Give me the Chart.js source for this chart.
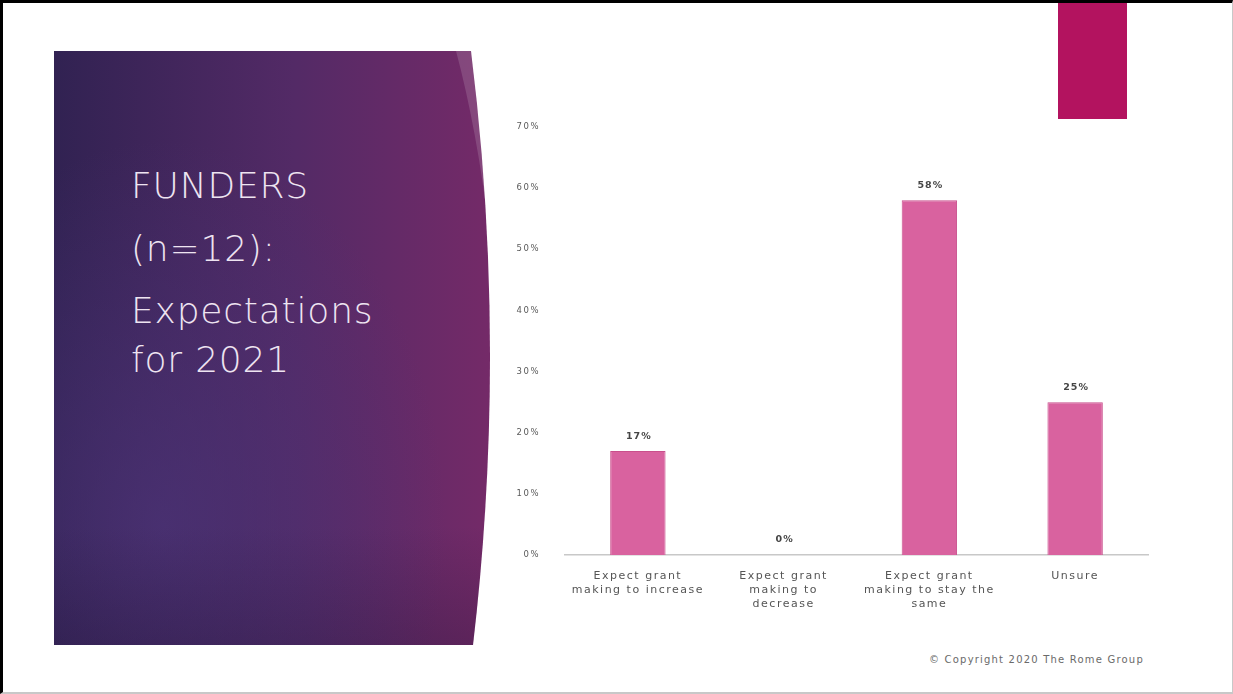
<!DOCTYPE html>
<html>
<head>
<meta charset="utf-8">
<script src="https://cdn.jsdelivr.net/npm/chart.js@4"></script>
<style>
  html, body { margin: 0; padding: 0; background: #fff; }
  body { width: 1233px; height: 694px; position: relative; overflow: hidden; font-family: "DejaVu Sans", sans-serif; }
  .frame { position: absolute; left: 0; top: 0; width: 1233px; height: 694px; box-sizing: border-box;
           border-left: 3px solid #000; border-top: 3px solid #000; border-right: 1px solid #c8c8c8; border-bottom: 2px solid #c8c8c8; }
  #deco { position: absolute; left: 0; top: 0; }
  .title { position: absolute; left: 131px; top: 160px; color: #eee4f1; font-family: "DejaVu Sans", sans-serif; font-weight: 200;
           font-size: 36px; line-height: 1; letter-spacing: 0.8px; }
  .title div { position: absolute; left: 0; white-space: nowrap; }
  .tag { position: absolute; left: 1058px; top: 3px; width: 69px; height: 116px; background: #b3135f; }
  .copy { position: absolute; left: 929px; top: 654px; font-size: 10px; color: #6a6a6a; letter-spacing: 1.2px; white-space: nowrap; }
  #wrap { position: absolute; left: 500px; top: 110px; width: 680px; height: 560px; }
</style>
</head>
<body>
<svg id="deco" width="1233" height="694">
  <defs>
    <linearGradient id="panelH" x1="0" y1="0" x2="1" y2="0">
      <stop offset="0" stop-color="#312252"/>
      <stop offset="0.55" stop-color="#532a66"/>
      <stop offset="1" stop-color="#742a68"/>
    </linearGradient>
    <radialGradient id="panelGlow" cx="0.25" cy="0.8" r="0.65">
      <stop offset="0" stop-color="#4c3479" stop-opacity="0.7"/>
      <stop offset="1" stop-color="#4c3479" stop-opacity="0"/>
    </radialGradient>
    <linearGradient id="panelFoot" x1="0" y1="0" x2="0" y2="1">
      <stop offset="0.8" stop-color="#1c1030" stop-opacity="0"/>
      <stop offset="1" stop-color="#1c1030" stop-opacity="0.25"/>
    </linearGradient>
  </defs>
  <!-- left title panel with the curved right edge -->
  <path d="M54 51 L471 51 Q508 348 473 645 L54 645 Z" fill="url(#panelH)"/>
  <path d="M54 51 L471 51 Q508 348 473 645 L54 645 Z" fill="url(#panelGlow)"/>
  <path d="M54 51 L471 51 Q508 348 473 645 L54 645 Z" fill="url(#panelFoot)"/>
  <path d="M456 51 L471 51 Q485 130 489 230 Q477 130 456 51 Z" fill="#ffffff" fill-opacity="0.14"/>
</svg>

<div class="title">
  <div style="top:7.5px">FUNDERS</div>
  <div style="top:71px">(n=12):</div>
  <div style="top:132.5px">Expectations</div>
  <div style="top:181.5px">for 2021</div>
</div>

<div class="tag"></div>
<div class="copy">© Copyright 2020 The Rome Group</div>

<div id="wrap"><canvas id="chart" width="680" height="560"></canvas></div>
<div class="frame"></div>

<script>
const categories = [
  ["Expect grant", "making to increase"],
  ["Expect grant", "making to", "decrease"],
  ["Expect grant", "making to stay the", "same"],
  ["Unsure"]
];
const shares = [17, 0, 58, 25];
const yTicks = [0, 10, 20, 30, 40, 50, 60, 70];

// wide, airy lettering for the axis labels
const spacedText = {
  id: "spacedText",
  beforeDraw(chart) { chart.ctx.letterSpacing = "1.5px"; }
};

// value labels drawn above each bar
const barValueLabels = {
  id: "barValueLabels",
  afterDatasetsDraw(chart) {
    const ctx = chart.ctx;
    const meta = chart.getDatasetMeta(0);
    ctx.save();
    ctx.letterSpacing = "1px";
    ctx.font = "bold 9.5px 'DejaVu Sans', sans-serif";
    ctx.fillStyle = "#454545";
    ctx.textAlign = "center";
    ctx.textBaseline = "middle";
    meta.data.forEach((bar, i) => {
      ctx.fillText(shares[i] + "%", bar.x + 1, bar.y - 15);
    });
    ctx.restore();
  }
};

const ctx = document.getElementById("chart");
new Chart(ctx, {
  type: "bar",
  data: {
    labels: categories,
    datasets: [{
      data: shares,
      backgroundColor: "#d9629f",
      borderColor: "#c94f8c",
      borderWidth: 1,
      barPercentage: 0.38,
      categoryPercentage: 1
    }]
  },
  options: {
    responsive: false,
    animation: false,
    layout: { padding: { top: 17, right: 32, left: 0, bottom: 0 } },
    plugins: { legend: { display: false }, tooltip: { enabled: false } },
    scales: {
      x: {
        grid: { display: false, drawTicks: false },
        border: { display: true, color: "#c8c8c8", width: 1.5 },
        ticks: {
          color: "#555",
          padding: 14,
          maxRotation: 0,
          autoSkip: false,
          font: { family: "'DejaVu Sans', sans-serif", size: 11, lineHeight: 1.27 }
        },
        afterFit(scale) { scale.height = 115; }
      },
      y: {
        min: 0,
        max: 70,
        grid: { display: false, drawTicks: false },
        border: { display: false },
        afterBuildTicks(scale) { scale.ticks = yTicks.map(v => ({ value: v })); },
        ticks: {
          color: "#5a5a5a",
          padding: 25,
          font: { family: "'DejaVu Sans', sans-serif", size: 8.5 },
          callback: v => v + "%"
        },
        afterFit(scale) {
          scale.width = 65;
          // the wide label gap should not push the plot area down
          scale.paddingTop = 0;
          scale.paddingBottom = 0;
        }
      }
    }
  },
  plugins: [spacedText, barValueLabels]
});
</script>
</body>
</html>
